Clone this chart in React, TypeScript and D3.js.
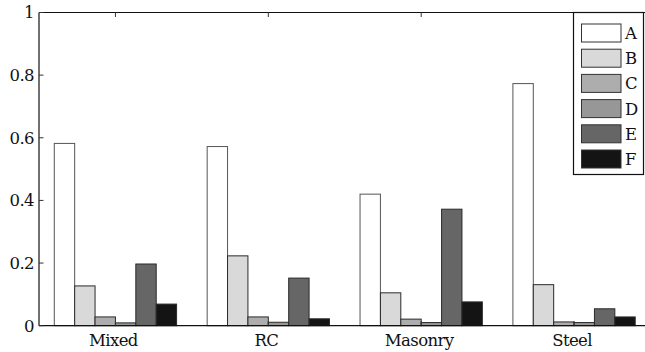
import React from "react";
import * as d3 from "d3";

const categories = ["Mixed", "RC", "Masonry", "Steel"];
const seriesNames = ["A", "B", "C", "D", "E", "F"];
const seriesColors = ["#ffffff", "#d9d9d9", "#adadad", "#979797", "#666666", "#141414"];
const valuesA = [0.582, 0.572, 0.42, 0.773];
const valuesB = [0.127, 0.223, 0.105, 0.131];
const valuesC = [0.028, 0.028, 0.021, 0.012];
const valuesD = [0.009, 0.011, 0.01, 0.01];
const valuesE = [0.197, 0.152, 0.372, 0.054];
const valuesF = [0.069, 0.022, 0.076, 0.028];
const yTicks = [0, 0.2, 0.4, 0.6, 0.8, 1];
const yTickLabels = ["0", "0.2", "0.4", "0.6", "0.8", "1"];

const series = [valuesA, valuesB, valuesC, valuesD, valuesE, valuesF];

export default function App() {
  const W = 645, H = 352;
  const left = 39, right = 650.5, top = 12.5, bottom = 325.7;
  const x = d3.scaleLinear().domain([0.5, 4.5]).range([left, right]);
  const y = d3.scaleLinear().domain([0, 1]).range([bottom, top]);
  const unit = x(1) - x(0);
  const groupW = 0.8 * unit;
  const barW = groupW / series.length;
  const font = "DejaVu Serif";
  const fs = 16.5;
  const tickLen = 4.5;

  const legX = 573.5, legY = 12.5, legW = 70, legH = 162;
  const swX = 581.5, swW = 39.5, swH = 18, swY0 = 24, swStep = 25.2;

  return (
    <svg width={W} height={H} style={{ position: "absolute", left: 0, top: 0, background: "#fff" }}>
      <rect x={0} y={0} width={W} height={H} fill="#fff" />
      {series.map((vals, si) =>
        vals.map((v, ci) => {
          const cx = x(ci + 1);
          const bx = cx - groupW / 2 + si * barW;
          return (
            <rect
              key={`${si}-${ci}`}
              x={bx}
              y={y(v)}
              width={barW}
              height={y(0) - y(v)}
              fill={seriesColors[si]}
              stroke={si === 0 ? "#555" : "#2a2a2a"}
              strokeWidth={1}
            />
          );
        })
      )}
      <line x1={left} x2={right} y1={bottom} y2={bottom} stroke="#111" strokeWidth={1.2} />
      <line x1={left} x2={right} y1={top} y2={top} stroke="#111" strokeWidth={1.2} />
      <line x1={left} x2={left} y1={top} y2={bottom} stroke="#111" strokeWidth={1.2} />
      <line x1={right} x2={right} y1={top} y2={bottom} stroke="#111" strokeWidth={1.2} />
      {yTicks.map((t, i) => (
        <g key={`yt${i}`}>
          <line x1={left} x2={left + tickLen} y1={y(t)} y2={y(t)} stroke="#333" strokeWidth={1} />
          <line x1={right} x2={right - tickLen} y1={y(t)} y2={y(t)} stroke="#333" strokeWidth={1} />
          <text x={left - 5} y={y(t)} dy="0.36em" textAnchor="end" fontFamily={font} fontSize={fs} letterSpacing={-0.6} fill="#111">
            {yTickLabels[i]}
          </text>
        </g>
      ))}
      {categories.map((c, i) => (
        <g key={`xt${i}`}>
          <line x1={x(i + 1)} x2={x(i + 1)} y1={bottom} y2={bottom - tickLen} stroke="#333" strokeWidth={1} />
          <line x1={x(i + 1)} x2={x(i + 1)} y1={top} y2={top + tickLen} stroke="#333" strokeWidth={1} />
          <text x={x(i + 1) - 2} y={346} textAnchor="middle" fontFamily={font} fontSize={fs} letterSpacing={-0.6} fill="#111">
            {c}
          </text>
        </g>
      ))}
      <rect x={legX} y={legY} width={legW} height={legH} fill="#fff" stroke="#111" strokeWidth={1.2} />
      {seriesNames.map((n, i) => (
        <g key={`lg${i}`}>
          <rect
            x={swX}
            y={swY0 + i * swStep}
            width={swW}
            height={swH}
            fill={seriesColors[i]}
            stroke="#333"
            strokeWidth={1}
          />
          <text x={625} y={swY0 + i * swStep + swH / 2} dy="0.36em" fontFamily={font} fontSize={fs} fill="#111">
            {n}
          </text>
        </g>
      ))}
    </svg>
  );
}
